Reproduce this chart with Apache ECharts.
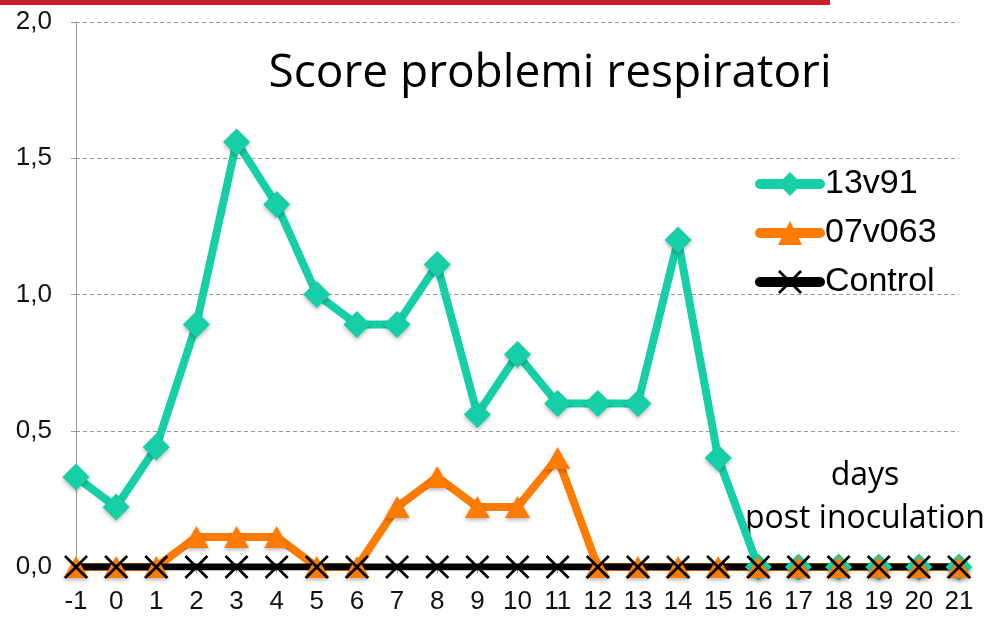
<!DOCTYPE html>
<html>
<head>
<meta charset="utf-8">
<script src="https://cdn.jsdelivr.net/npm/echarts@6/dist/echarts.min.js"></script>
<style>
  html, body { margin: 0; padding: 0; background: #fff; }
  #chart { width: 990px; height: 627px; }
</style>
</head>
<body>
<div id="chart"></div>
<script>
// giorni dopo inoculazione
var days = ['-1', '0', '1', '2', '3', '4', '5', '6', '7', '8', '9', '10',
  '11', '12', '13', '14', '15', '16', '17', '18', '19', '20', '21'];
var strain13v91 = [0.33, 0.22, 0.44, 0.89, 1.56, 1.33, 1.0, 0.89, 0.89, 1.11, 0.56, 0.78,
  0.6, 0.6, 0.6, 1.2, 0.4, 0, 0, 0, 0, 0, 0];
var strain07v063 = [0, 0, 0, 0.11, 0.11, 0.11, 0, 0, 0.22, 0.33, 0.22, 0.22,
  0.4, 0, 0, 0, 0, 0, 0, 0, 0, 0, 0];
var control = [0, 0, 0, 0, 0, 0, 0, 0, 0, 0, 0, 0,
  0, 0, 0, 0, 0, 0, 0, 0, 0, 0, 0];
var yTicks = ['0,0', '0,5', '1,0', '1,5', '2,0'];

var crossPath = 'path://M0,0.8L0.8,0L5,4.2L9.2,0L10,0.8L5.8,5L10,9.2L9.2,10L5,5.8L0.8,10L0,9.2L4.2,5Z';

var chart = echarts.init(document.getElementById('chart'));
chart.setOption({
  animation: false,
  title: {
    text: 'Score problemi respiratori',
    left: 545,
    textAlign: 'center',
    top: 46,
    textStyle: {
      fontFamily: 'Open Sans',
      fontWeight: 'normal',
      fontSize: 46,
      color: '#000'
    }
  },
  graphic: [
    {
      type: 'rect',
      shape: { x: 0, y: 0, width: 830, height: 5 },
      style: { fill: '#cc1f2b' }
    },
    {
      type: 'text',
      style: {
        text: 'days\npost inoculation',
        x: 865,
        y: 454,
        align: 'center',
        verticalAlign: 'top',
        fontFamily: 'Open Sans',
        fontSize: 32,
        lineHeight: 43,
        fill: '#000'
      }
    }
  ],
  legend: {
    orient: 'vertical',
    left: 750,
    top: 162,
    itemWidth: 60,
    itemHeight: 30,
    itemGap: 15,
    lineStyle: { width: 10, cap: 'round' },
    textStyle: {
      fontFamily: 'Liberation Sans',
      fontSize: 34,
      lineHeight: 34,
      color: '#000'
    },
    data: ['13v91', '07v063', 'Control']
  },
  grid: {
    left: 76,
    right: 31,
    top: 22,
    bottom: 60
  },
  xAxis: {
    type: 'category',
    data: days,
    boundaryGap: false,
    axisLine: { lineStyle: { color: '#999' } },
    axisTick: { show: true, length: 6, lineStyle: { color: '#999' } },
    axisLabel: {
      interval: 0,
      margin: 22,
      fontFamily: 'Liberation Sans',
      fontSize: 26,
      color: '#111'
    }
  },
  yAxis: {
    type: 'value',
    min: 0,
    max: 2,
    interval: 0.5,
    axisLine: { show: true, lineStyle: { color: '#999' } },
    axisTick: { show: true, length: 5, lineStyle: { color: '#999' } },
    axisLabel: {
      margin: 24,
      fontFamily: 'Liberation Sans',
      fontSize: 26,
      color: '#111',
      formatter: function (v) {
        return yTicks[Math.round(v / 0.5)];
      }
    },
    splitLine: {
      show: true,
      lineStyle: { type: [4, 3], color: '#999' }
    }
  },
  series: [
    {
      name: '13v91',
      type: 'line',
      data: strain13v91,
      symbol: 'diamond',
      symbolSize: [27, 27],
      lineStyle: { width: 8, color: '#17cfa6', cap: 'round', join: 'round' },
      itemStyle: {
        color: '#17cfa6',
        shadowBlur: 4,
        shadowColor: 'rgba(0,0,0,0.3)',
        shadowOffsetY: 2
      }
    },
    {
      name: '07v063',
      type: 'line',
      data: strain07v063,
      symbol: 'triangle',
      symbolSize: [25, 22],
      lineStyle: { width: 8, color: '#ff7c00', cap: 'round', join: 'round' },
      itemStyle: {
        color: '#ff7c00',
        shadowBlur: 4,
        shadowColor: 'rgba(0,0,0,0.3)',
        shadowOffsetY: 2
      }
    },
    {
      name: 'Control',
      type: 'line',
      data: control,
      symbol: crossPath,
      symbolSize: 24,
      lineStyle: { width: 7, color: '#000', cap: 'round' },
      itemStyle: { color: '#000' }
    }
  ]
});
</script>
</body>
</html>
